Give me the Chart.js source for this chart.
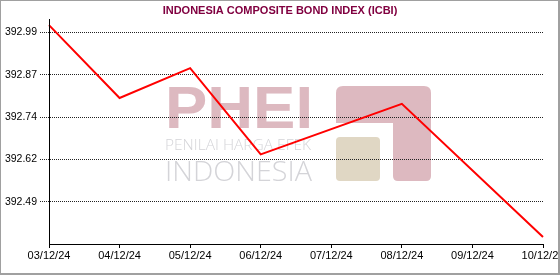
<!DOCTYPE html>
<html>
<head>
<meta charset="utf-8">
<script src="https://cdn.jsdelivr.net/npm/chart.js@4"></script>
<style>
html,body{margin:0;padding:0;background:#fff;overflow:hidden;}
#wrap{position:relative;width:560px;height:275px;}
canvas{display:block;}
</style>
</head>
<body>
<div id="wrap"><canvas id="c" width="560" height="275"></canvas></div>
<script>
const categories = ['03/12/24','04/12/24','05/12/24','06/12/24','07/12/24','08/12/24','09/12/24','10/12/24'];
const icbiValues = [393.011, 392.796, 392.884, 392.630, null, 392.779, null, 392.386];
const yTickValues = [392.49, 392.615, 392.74, 392.865, 392.99];
const yTickLabels = ['392.49', '392.62', '392.74', '392.87', '392.99'];
const titleText = 'INDONESIA COMPOSITE BOND INDEX (ICBI)';

function rrect(ctx, x, y, w, h, r) {
  ctx.beginPath();
  ctx.moveTo(x + r, y);
  ctx.lineTo(x + w - r, y);
  ctx.quadraticCurveTo(x + w, y, x + w, y + r);
  ctx.lineTo(x + w, y + h - r);
  ctx.quadraticCurveTo(x + w, y + h, x + w - r, y + h);
  ctx.lineTo(x + r, y + h);
  ctx.quadraticCurveTo(x, y + h, x, y + h - r);
  ctx.lineTo(x, y + r);
  ctx.quadraticCurveTo(x, y, x + r, y);
  ctx.closePath();
}

function fitText(ctx, text, x, yBase, width) {
  const w = ctx.measureText(text).width;
  ctx.save();
  ctx.translate(x, yBase);
  ctx.scale(width / w, 1);
  ctx.fillText(text, 0, 0);
  ctx.restore();
}

const decor = {
  id: 'decor',
  beforeDraw(chart) {
    const ctx = chart.ctx;
    ctx.save();
    ctx.fillStyle = '#ffffff';
    ctx.fillRect(0, 0, chart.width, chart.height);
    ctx.textBaseline = 'alphabetic';
    ctx.textAlign = 'left';
    ctx.fillStyle = '#ddb9c0';
    ctx.font = 'bold 59px "Liberation Sans", Arial, sans-serif';
    fitText(ctx, 'PHEI', 165, 128, 148);
    ctx.fillStyle = '#d4d4d8';
    ctx.font = '300 14px "Open Sans", Lato, sans-serif';
    fitText(ctx, 'PENILAI HARGA EFEK', 165, 150, 146);
    ctx.font = '300 28px "Open Sans", Lato, sans-serif';
    fitText(ctx, 'INDONESIA', 165, 181, 147);
    ctx.fillStyle = '#ddb9c0';
    rrect(ctx, 336, 86, 95, 37, 7); ctx.fill();
    rrect(ctx, 393, 100, 38, 81, 5); ctx.fill();
    ctx.fillRect(336, 100, 60, 23);
    ctx.fillStyle = '#e0d7c4';
    rrect(ctx, 336, 137, 44, 44, 4); ctx.fill();
    ctx.restore();
  },
  afterDraw(chart) {
    const ctx = chart.ctx;
    ctx.save();
    ctx.fillStyle = '#800040';
    ctx.font = 'bold 11px "Liberation Sans", Arial, sans-serif';
    ctx.textAlign = 'center';
    ctx.textBaseline = 'middle';
    ctx.fillText(titleText, 280, 10.5);
    ctx.strokeStyle = '#a0a0a0';
    ctx.lineWidth = 2;
    ctx.strokeRect(0, 0, 559, 274);
    // solid y axis line
    const a = chart.chartArea;
    ctx.strokeStyle = '#000';
    ctx.lineWidth = 1;
    ctx.beginPath();
    ctx.moveTo(a.left + 0.5, a.top);
    ctx.lineTo(a.left + 0.5, a.bottom);
    ctx.stroke();
    ctx.restore();
  }
};

new Chart(document.getElementById('c'), {
  type: 'line',
  data: {
    labels: categories,
    datasets: [{
      label: 'ICBI',
      data: icbiValues,
      borderColor: '#ff0000',
      borderWidth: 2,
      pointRadius: 0,
      tension: 0,
      spanGaps: true,
      fill: false
    }]
  },
  options: {
    responsive: false,
    animation: false,
    devicePixelRatio: 1,
    layout: { padding: { top: 19, right: 17, left: 0, bottom: 0 } },
    plugins: { legend: { display: false }, title: { display: false }, tooltip: { enabled: false } },
    scales: {
      x: {
        type: 'category',
        offset: false,
        grid: { display: true, drawOnChartArea: false, drawTicks: true, tickLength: 4, color: '#000', lineWidth: 1 },
        border: { display: true, color: '#000', width: 1 },
        ticks: {
          autoSkip: false, maxRotation: 0, minRotation: 0, padding: 1,
          color: '#000', font: { family: '"Liberation Sans", Arial, sans-serif', size: 11 }
        },
        afterFit(s) { s.height = 31; s.paddingLeft = 0; s.paddingRight = 0; }
      },
      y: {
        type: 'linear',
        min: 392.3656,
        max: 393.029,
        afterBuildTicks(s) { s.ticks = yTickValues.map(v => ({ value: v })); },
        grid: {
          display: true, drawOnChartArea: true, drawTicks: true, tickLength: 9,
          color: '#222', lineWidth: 1, tickBorderDash: [1, 1], tickColor: '#222'
        },
        border: { display: true, color: '#000', width: 1, dash: [1, 1] },
        ticks: {
          padding: 3,
          color: '#000',
          font: { family: '"Liberation Sans", Arial, sans-serif', size: 10.5 },
          callback(v) { const i = yTickValues.indexOf(v); return i >= 0 ? yTickLabels[i] : ''; }
        },
        afterFit(s) { s.width = 49; s.paddingTop = 0; s.paddingBottom = 0; }
      }
    }
  },
  plugins: [decor]
});
</script>
</body>
</html>
